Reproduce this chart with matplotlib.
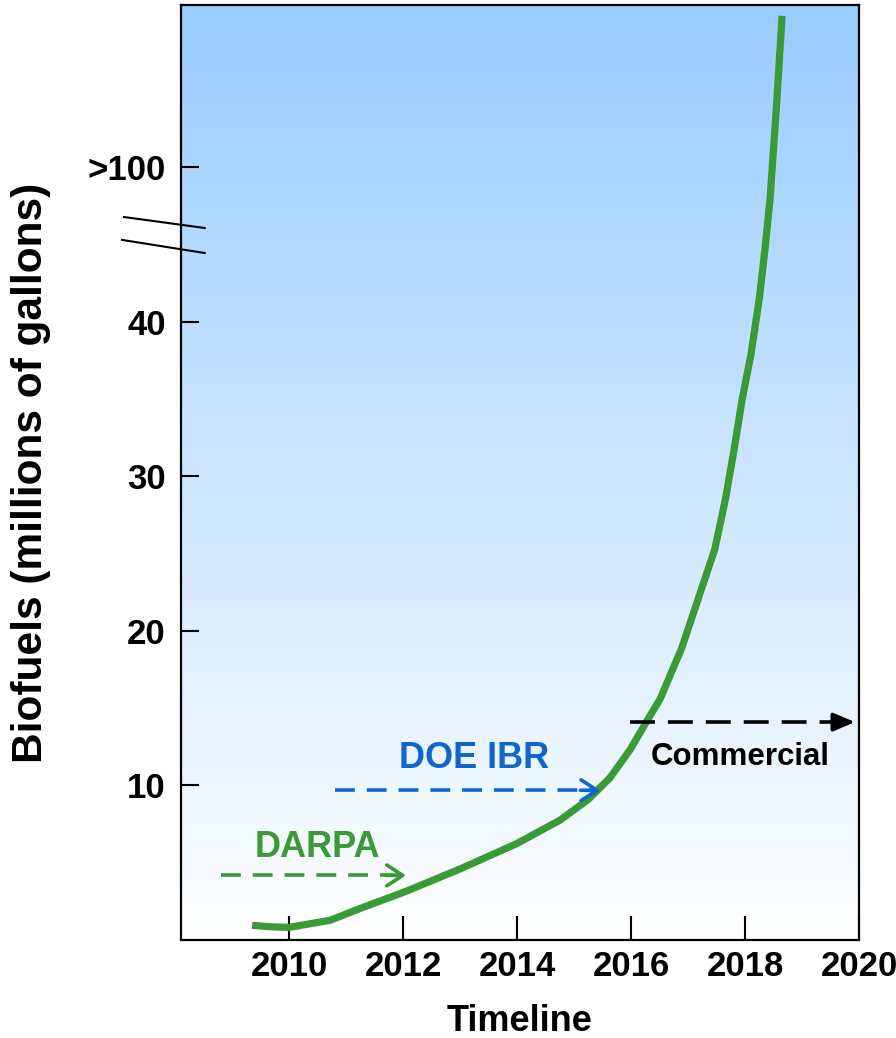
import numpy as np
import matplotlib
matplotlib.use("Agg")
import matplotlib.pyplot as plt
import matplotlib.transforms as mtransforms
from matplotlib.colors import LinearSegmentedColormap

plt.rcParams['font.family'] = ['Liberation Sans', 'DejaVu Sans']
plt.rcParams['font.weight'] = 'bold'

# projected biofuel output (millions of gallons) by year
years = [2009.35, 2009.7, 2010.0, 2010.72, 2011.25, 2012.05, 2013.0, 2014.0,
         2014.75, 2015.25, 2015.63, 2015.98, 2016.25, 2016.51, 2016.89,
         2017.18, 2017.47, 2017.66, 2017.81, 2017.95, 2018.1, 2018.25,
         2018.35, 2018.44, 2018.56, 2018.65]
output = [0.95, 0.85, 0.82, 1.28, 2.05, 3.15, 4.6, 6.25,
          7.75, 9.1, 10.5, 12.3, 14.0, 15.6, 18.9,
          22.1, 25.3, 28.6, 31.8, 35.0, 37.8, 41.5,
          44.7, 48.0, 54.4, 59.8]

year_ticks = [2010, 2012, 2014, 2016, 2018, 2020]
gal_ticks = [10, 20, 30, 40, 50]
gal_labels = ['10', '20', '30', '40', '>100']

# program phases: label, start year, end year, level
darpa = ('DARPA', 2008.8, 2012.05, 4.18)
doe = ('DOE IBR', 2010.8, 2015.46, 9.69)
commercial = ('Commercial', 2015.98, 2019.93, 14.1)

green = '#3a9b36'
blue = '#0f66cc'

fig = plt.figure(figsize=(8.96, 10.38), dpi=100)
ax = fig.add_axes([0.202, 0.0944, 0.7567, 0.9008])
ax.set_xlim(2008.1, 2020.0)
ax.set_ylim(0, 60.5)

# sky-blue to white backdrop
cmap = LinearSegmentedColormap.from_list('sky', ['#ffffff', '#99ccff'])
grad = np.linspace(0, 1, 256).reshape(-1, 1)
ax.imshow(grad, extent=[0, 1, 0, 1], transform=ax.transAxes, origin='lower',
          aspect='auto', cmap=cmap, zorder=0)

ax.plot(years, output, color=green, lw=5.2, solid_capstyle='butt',
        solid_joinstyle='round', zorder=3)

ax.set_xticks(year_ticks)
ax.set_xticklabels([str(y) for y in year_ticks])
ax.set_yticks(gal_ticks)
ax.set_yticklabels(gal_labels)
ax.tick_params(axis='both', direction='in', labelsize=25, width=1.5, color='black')
ax.tick_params(axis='x', length=17, pad=7)
ax.tick_params(axis='y', length=13, pad=11)
for s in ax.spines.values():
    s.set_linewidth(1.6)

ax.set_xlabel('Timeline', fontsize=26, fontweight='bold', labelpad=15)
ax.set_ylabel('Biofuels (millions of gallons)', fontsize=30.5, fontweight='bold', labelpad=26)

# axis break marks
brk = mtransforms.blended_transform_factory(ax.transAxes, ax.transData)
ax.plot([-0.084, 0.035], [46.78, 46.07], color='black', lw=1.5, transform=brk, clip_on=False)
ax.plot([-0.087, 0.035], [45.3, 44.45], color='black', lw=1.5, transform=brk, clip_on=False)


def phase(info, color, text_pos, size, head, dashes):
    label, x0, x1, y = info
    ax.plot([x0, x1 - 0.1], [y, y], color=color, lw=2.6, dashes=dashes, zorder=4)
    ax.annotate('', xy=(x1, y), xytext=(x1 - 0.35, y),
                arrowprops=dict(arrowstyle=head, color=color, lw=2.6,
                                shrinkA=0, shrinkB=0), zorder=4)
    ax.text(text_pos[0], text_pos[1], label, color=color, fontsize=size,
            fontweight='bold', ha='center', va='center', zorder=5)


phase(darpa, green, (2010.49, 6.0), 26, '->,head_length=1.15,head_width=0.75', (5.5, 3.3))
phase(doe, blue, (2013.25, 11.75), 26, '->,head_length=1.15,head_width=0.75', (5.5, 3.3))
phase(commercial, 'black', (2017.91, 11.85), 22.5, '-|>,head_length=1.3,head_width=0.55', (6.9, 3.6))

fig.savefig('out.png', dpi=100)
